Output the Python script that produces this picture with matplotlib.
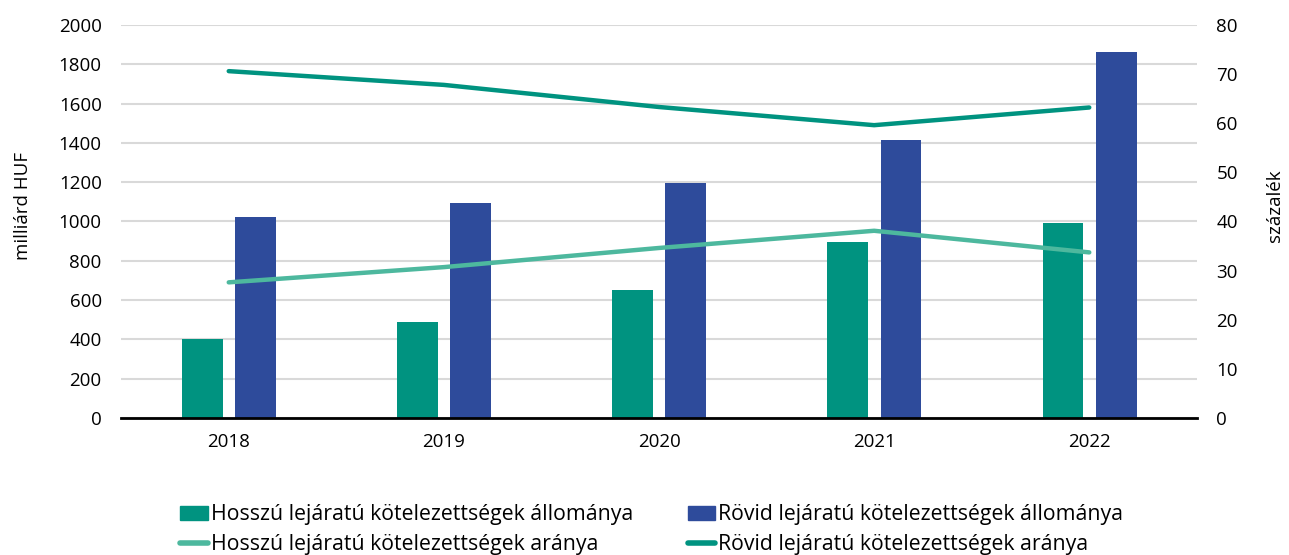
import numpy as np
import matplotlib.pyplot as plt
from matplotlib.lines import Line2D
from matplotlib.patches import Patch

plt.rcParams['font.family'] = ['Open Sans', 'DejaVu Sans']

years = ["2018", "2019", "2020", "2021", "2022"]
long_stock = [400, 490, 651, 897, 991]
short_stock = [1024, 1096, 1196, 1415, 1861]
long_share = [27.6, 30.7, 34.6, 38.1, 33.7]
short_share = [70.6, 67.8, 63.3, 59.6, 63.2]

c_bar_green = "#009380"
c_bar_blue = "#2E4B9B"
c_line_light = "#4DB89E"
c_line_dark = "#009380"

fig = plt.figure(figsize=(12.89, 5.55), dpi=100)
ax = fig.add_axes([0.094, 0.247, 0.8345, 0.708])
ax2 = ax.twinx()

x = np.arange(len(years))
w = 0.19
ax.bar(x - 0.122, long_stock, w, color=c_bar_green, zorder=2)
ax.bar(x + 0.125, short_stock, w, color=c_bar_blue, zorder=2)

ax2.plot(x, long_share, color=c_line_light, lw=3.2, solid_capstyle="round", solid_joinstyle="round")
ax2.plot(x, short_share, color=c_line_dark, lw=3.2, solid_capstyle="round", solid_joinstyle="round")

ax.set_xlim(-0.5, 4.5)
ax.set_ylim(0, 2000)
ax.set_yticks(range(0, 2001, 200))
ax2.set_ylim(0, 80)
ax2.set_yticks(range(0, 81, 10))
ax.set_xticks(x)
ax.set_xticklabels(years)

ax.yaxis.grid(True, color="#D9D9D9", lw=1.5, zorder=0)
ax.set_axisbelow(True)
for a in (ax, ax2):
    for s in ("top", "left", "right", "bottom"):
        a.spines[s].set_visible(False)
ax.spines["bottom"].set_visible(True)
ax.spines["bottom"].set_linewidth(2)
ax.spines["bottom"].set_color("black")

fs = 13.5
ax.tick_params(axis="both", length=0, labelsize=fs)
ax.tick_params(axis="y", pad=14)
ax.tick_params(axis="x", pad=11)
ax2.tick_params(axis="y", length=0, labelsize=fs, pad=14)

ax.set_ylabel("milliárd HUF", fontsize=fs)
ax.yaxis.set_label_coords(-0.083, 0.54)
ax2.set_ylabel("százalék", fontsize=fs)
ax2.yaxis.set_label_coords(1.064, 0.54)

handles = [
    Patch(color=c_bar_green),
    Line2D([0], [0], color=c_line_light, lw=4, solid_capstyle="round"),
    Patch(color=c_bar_blue),
    Line2D([0], [0], color=c_line_dark, lw=4, solid_capstyle="round"),
]
labels = [
    "Hosszú lejáratú kötelezettségek állománya",
    "Hosszú lejáratú kötelezettségek aránya",
    "Rövid lejáratú kötelezettségek állománya",
    "Rövid lejáratú kötelezettségek aránya",
]
fig.legend(handles, labels, ncol=2, loc="lower left", bbox_to_anchor=(0.125, -0.035),
           frameon=False, fontsize=15.3, handlelength=1.3, handletextpad=0.15,
           columnspacing=2.55, labelspacing=0.42)

fig.savefig("out.png", dpi=100)
